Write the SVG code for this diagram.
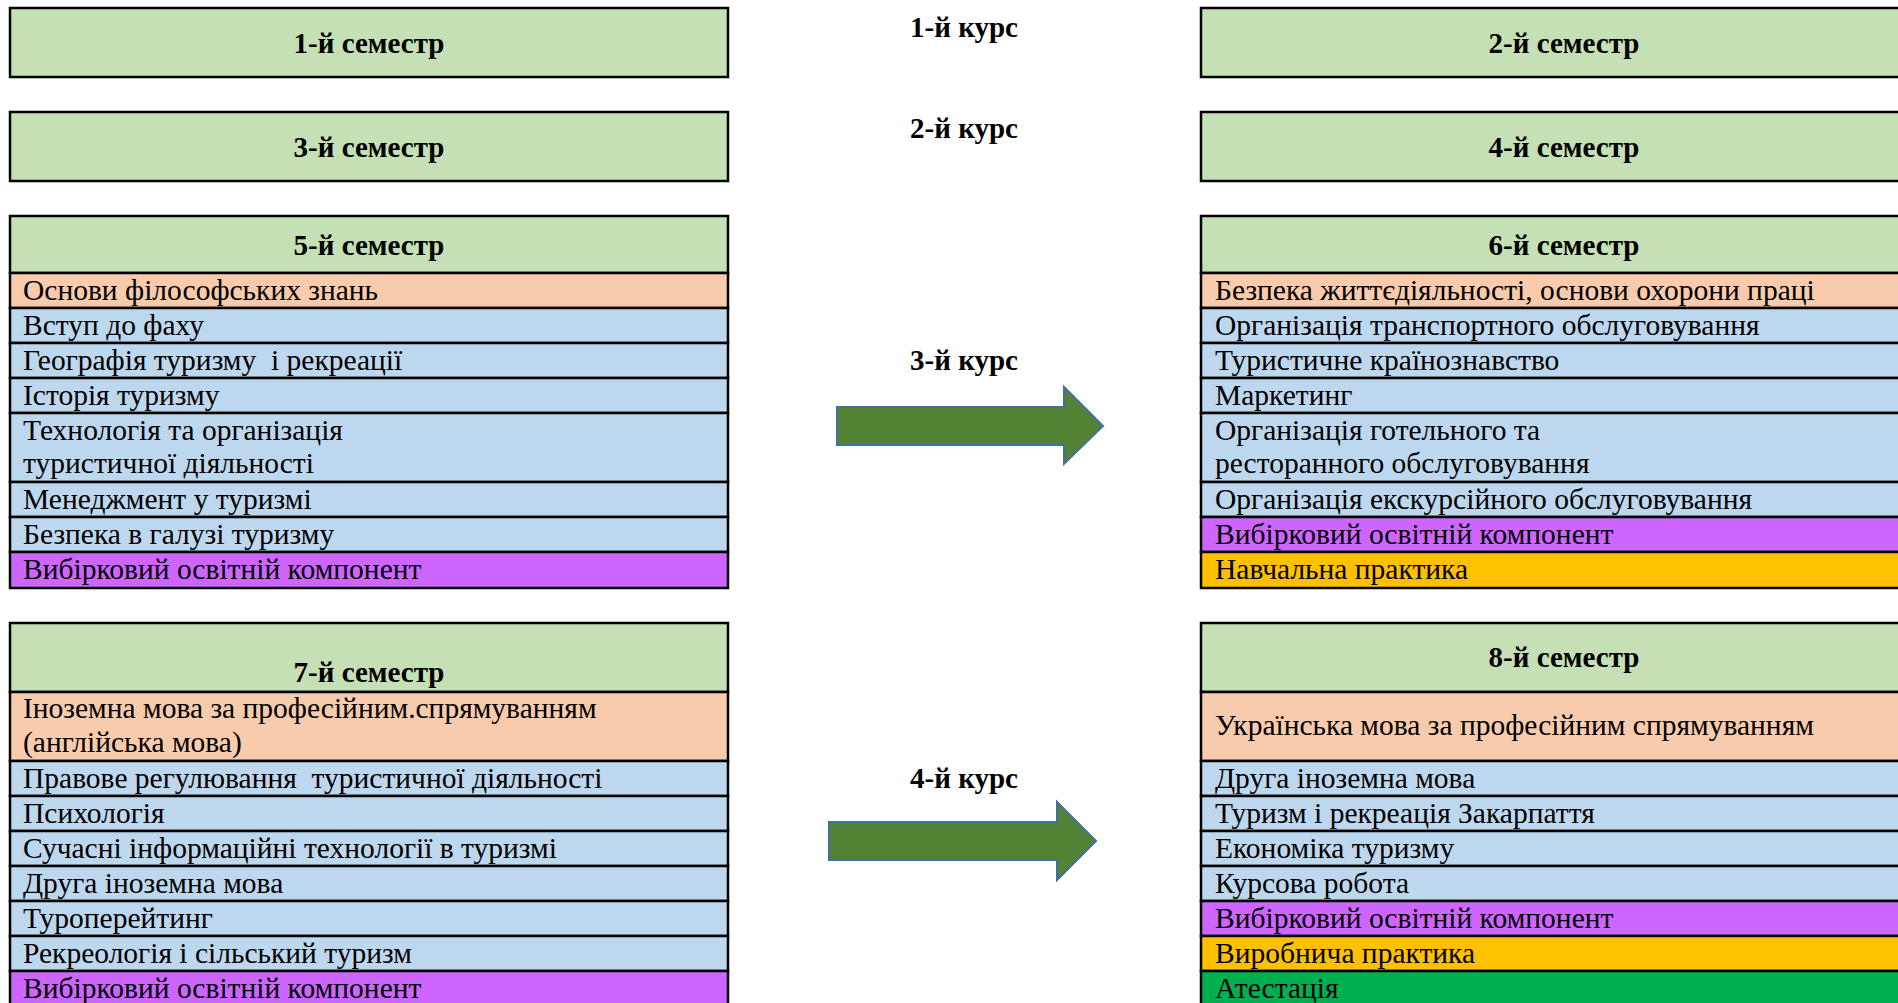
<svg xmlns="http://www.w3.org/2000/svg" width="1898" height="1003" viewBox="0 0 1898 1003">
<style>
.t{font-family:"Liberation Serif","Times New Roman",serif;font-size:29.5px;fill:#000;white-space:pre}
.h{font-family:"Liberation Serif","Times New Roman",serif;font-size:29px;font-weight:bold;fill:#000;text-anchor:middle}
.c{font-family:"Liberation Serif","Times New Roman",serif;font-size:29px;font-weight:bold;fill:#000;text-anchor:middle}
.r{stroke:#000;stroke-width:2.5}
.g{fill:#C5E0B4}.o{fill:#F8CBAD}.b{fill:#BDD7EE}.p{fill:#CC66FF}.y{fill:#FFC000}.e{fill:#00B050}
.arr{fill:#548235;stroke:#41719C;stroke-width:2}
</style>

<g id="sem1"><rect class="r g" x="10" y="8" width="718" height="69"/><text class="h" x="369" y="53">1-й семестр</text></g>
<g id="sem2"><rect class="r g" x="1201" y="8" width="726" height="69"/><text class="h" x="1564" y="53">2-й семестр</text></g>
<g id="sem3"><rect class="r g" x="10" y="112" width="718" height="69"/><text class="h" x="369" y="157">3-й семестр</text></g>
<g id="sem4"><rect class="r g" x="1201" y="112" width="726" height="69"/><text class="h" x="1564" y="157">4-й семестр</text></g>

<g id="kurs1"><text class="c" x="964" y="37">1-й курс</text></g>
<g id="kurs2"><text class="c" x="964" y="138">2-й курс</text></g>
<g id="kurs3"><text class="c" x="964" y="370">3-й курс</text></g>
<g id="kurs4"><text class="c" x="964" y="788">4-й курс</text></g>

<g id="sem5">
<rect class="r g" x="10" y="216" width="718" height="57"/><text class="h" x="369" y="255">5-й семестр</text>
<rect class="r o" x="10" y="273" width="718" height="35"/><text class="t" x="23" y="300">Основи філософських знань</text>
<rect class="r b" x="10" y="308" width="718" height="35"/><text class="t" x="23" y="335">Вступ до фаху</text>
<rect class="r b" x="10" y="343" width="718" height="35"/><text class="t" x="23" y="370">Географія туризму  і рекреації</text>
<rect class="r b" x="10" y="378" width="718" height="35"/><text class="t" x="23" y="405">Історія туризму</text>
<rect class="r b" x="10" y="413" width="718" height="69"/><text class="t" x="23" y="440">Технологія та організація</text><text class="t" x="23" y="473">туристичної діяльності</text>
<rect class="r b" x="10" y="482" width="718" height="35"/><text class="t" x="23" y="509">Менеджмент у туризмі</text>
<rect class="r b" x="10" y="517" width="718" height="35"/><text class="t" x="23" y="544">Безпека в галузі туризму</text>
<rect class="r p" x="10" y="552" width="718" height="36"/><text class="t" x="23" y="579">Вибірковий освітній компонент</text>
</g>

<g id="sem6">
<rect class="r g" x="1201" y="216" width="726" height="57"/><text class="h" x="1564" y="255">6-й семестр</text>
<rect class="r o" x="1201" y="273" width="726" height="35"/><text class="t" x="1215" y="300">Безпека життєдіяльності, основи охорони праці</text>
<rect class="r b" x="1201" y="308" width="726" height="35"/><text class="t" x="1215" y="335">Організація транспортного обслуговування</text>
<rect class="r b" x="1201" y="343" width="726" height="35"/><text class="t" x="1215" y="370">Туристичне країнознавство</text>
<rect class="r b" x="1201" y="378" width="726" height="35"/><text class="t" x="1215" y="405">Маркетинг</text>
<rect class="r b" x="1201" y="413" width="726" height="69"/><text class="t" x="1215" y="440">Організація готельного та</text><text class="t" x="1215" y="473">ресторанного обслуговування</text>
<rect class="r b" x="1201" y="482" width="726" height="35"/><text class="t" x="1215" y="509">Організація екскурсійного обслуговування</text>
<rect class="r p" x="1201" y="517" width="726" height="35"/><text class="t" x="1215" y="544">Вибірковий освітній компонент</text>
<rect class="r y" x="1201" y="552" width="726" height="36"/><text class="t" x="1215" y="579">Навчальна практика</text>
</g>

<g id="sem7">
<rect class="r g" x="10" y="623" width="718" height="69"/><text class="h" x="369" y="682">7-й семестр</text>
<rect class="r o" x="10" y="692" width="718" height="69"/><text class="t" x="23" y="718">Іноземна мова за професійним.спрямуванням</text><text class="t" x="23" y="752">(англійська мова)</text>
<rect class="r b" x="10" y="761" width="718" height="35"/><text class="t" x="23" y="788">Правове регулювання  туристичної діяльності</text>
<rect class="r b" x="10" y="796" width="718" height="35"/><text class="t" x="23" y="823">Психологія</text>
<rect class="r b" x="10" y="831" width="718" height="35"/><text class="t" x="23" y="858">Сучасні інформаційні технології в туризмі</text>
<rect class="r b" x="10" y="866" width="718" height="35"/><text class="t" x="23" y="893">Друга іноземна мова</text>
<rect class="r b" x="10" y="901" width="718" height="35"/><text class="t" x="23" y="928">Туроперейтинг</text>
<rect class="r b" x="10" y="936" width="718" height="35"/><text class="t" x="23" y="963">Рекреологія і сільський туризм</text>
<rect class="r p" x="10" y="971" width="718" height="40"/><text class="t" x="23" y="998">Вибірковий освітній компонент</text>
</g>

<g id="sem8">
<rect class="r g" x="1201" y="623" width="726" height="69"/><text class="h" x="1564" y="667">8-й семестр</text>
<rect class="r o" x="1201" y="692" width="726" height="69"/><text class="t" x="1215" y="735">Українська мова за професійним спрямуванням</text>
<rect class="r b" x="1201" y="761" width="726" height="35"/><text class="t" x="1215" y="788">Друга іноземна мова</text>
<rect class="r b" x="1201" y="796" width="726" height="35"/><text class="t" x="1215" y="823">Туризм і рекреація Закарпаття</text>
<rect class="r b" x="1201" y="831" width="726" height="35"/><text class="t" x="1215" y="858">Економіка туризму</text>
<rect class="r b" x="1201" y="866" width="726" height="35"/><text class="t" x="1215" y="893">Курсова робота</text>
<rect class="r p" x="1201" y="901" width="726" height="35"/><text class="t" x="1215" y="928">Вибірковий освітній компонент</text>
<rect class="r y" x="1201" y="936" width="726" height="35"/><text class="t" x="1215" y="963">Виробнича практика</text>
<rect class="r e" x="1201" y="971" width="726" height="40"/><text class="t" x="1215" y="998">Атестація</text>
</g>

<g id="connectors">
<polygon class="arr" points="837,407 1064,407 1064,387 1103,426 1064,464 1064,445 837,445"/>
<polygon class="arr" points="829,822 1057,822 1057,802 1096,841 1057,880 1057,860 829,860"/>
</g>
</svg>
